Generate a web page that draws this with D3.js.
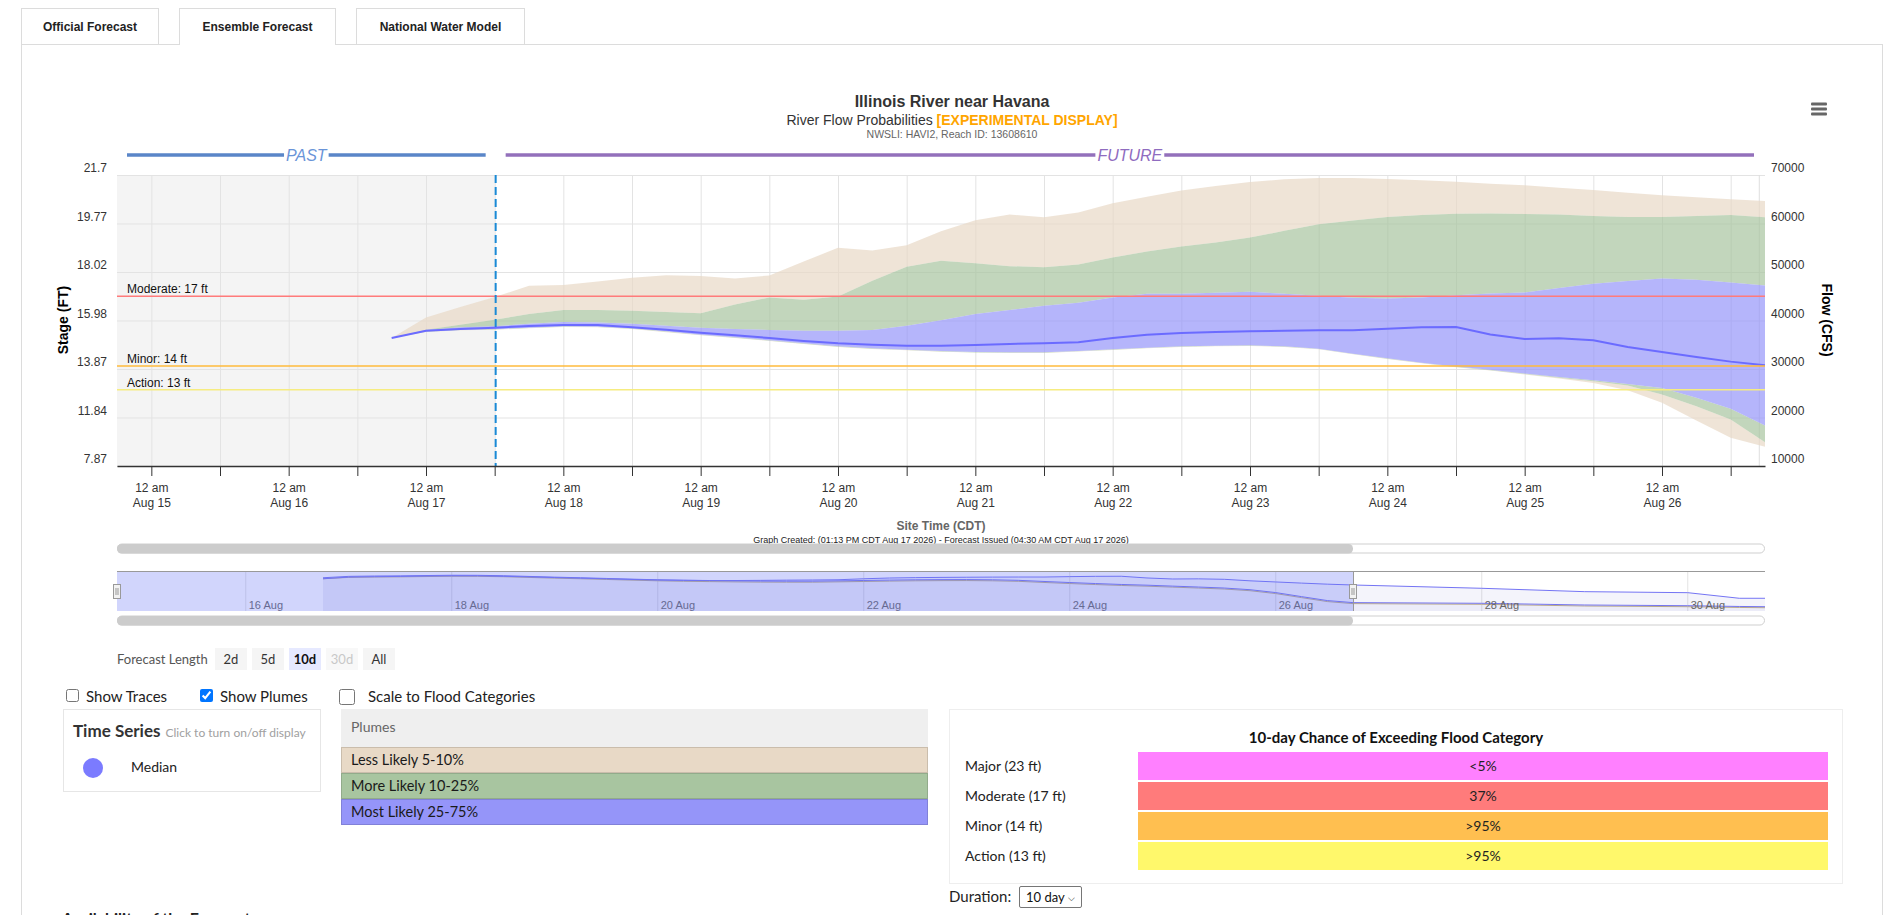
<!DOCTYPE html>
<html>
<head>
<meta charset="utf-8">
<title>Illinois River near Havana</title>
<script src="https://cdn.jsdelivr.net/npm/d3@7"></script>
<style>
  body { margin: 0; width: 1902px; height: 915px; overflow: hidden; background: #fff; position: relative;
         font-family: Lato, "Open Sans", sans-serif; color: #222; }
  div.a { position: absolute; box-sizing: border-box; white-space: nowrap; }
  svg text { font-family: "Liberation Sans", Arial, sans-serif; }
  .tab { top: 8px; height: 36px; border: 1px solid #dcdcdc; border-bottom: none; background: #fff;
         font: bold 12px "Liberation Sans", Arial, sans-serif; color: #222; text-align: center; line-height: 36px; }
  .btn { top: 648px; height: 22px; width: 32px; line-height: 22px; text-align: center; background: #f5f5f5;
         font-size: 13px; color: #333; }
  input.chk { position: absolute; margin: 0; }
</style>
</head>
<body>
<script>
// ---------- data ----------
var times = ["08-16 18","08-17 00","08-17 06","08-17 12","08-17 18","08-18 00","08-18 06","08-18 12","08-18 18",
  "08-19 00","08-19 06","08-19 12","08-19 18","08-20 00","08-20 06","08-20 12","08-20 18",
  "08-21 00","08-21 06","08-21 12","08-21 18","08-22 00","08-22 06","08-22 12","08-22 18",
  "08-23 00","08-23 06","08-23 12","08-23 18","08-24 00","08-24 06","08-24 12","08-24 18",
  "08-25 00","08-25 06","08-25 12","08-25 18","08-26 00","08-26 06","08-26 12","08-26 18"];
// flows in CFS
var median = [36400,37900,38250,38520,38860,39070,39070,38590,38110,37490,36940,36390,35770,35290,35020,34810,34810,
  34950,35160,35290,35500,36390,37080,37420,37630,37760,37900,37970,37970,38310,38590,38650,37100,
  36190,36320,35910,34540,33510,32480,31520,30770];
var tanTop = [36400,40640,42780,44830,47160,47300,48050,48810,49350,49150,48670,49290,52170,54980,54430,55530,58410,
  60670,61840,61290,62250,64170,65540,66780,67740,68560,69110,69380,69380,69180,68900,68630,68220,
  67870,67390,66910,66360,65820,65400,64990,64650];
var greenTop = [36400,38100,39140,40160,41330,42150,42150,42020,41740,41470,43320,44760,44280,44970,48190,51070,52300,
  51820,51210,51000,51550,52990,54220,55250,56080,57100,58480,59850,60600,61360,61770,62000,62040,
  61970,61840,61560,61360,61360,61560,61770,61290];
var blueTop = [36400,38040,38590,38790,39340,39680,39610,39340,38930,38520,38240,38040,37900,37900,38040,38930,40030,
  41330,42150,43040,43660,44760,45510,45510,45720,45920,45510,45100,44690,44550,44760,45200,45550,
  45790,46680,47570,48120,48670,48390,47850,47230];
var blueBot = [36400,37760,38100,38240,38520,38790,38720,38380,37760,37080,36530,35910,35290,34680,34260,33990,33720,
  33510,33440,33440,33720,34060,34400,34680,34810,34880,34680,34200,33170,32210,31310,30500,29850,
  29050,28370,27680,26930,26100,24050,21780,18350];
var greenBot = [36400,37700,38020,38160,38450,38720,38650,38300,37680,37000,36450,35830,35200,34600,34180,33900,33630,
  33420,33350,33350,33640,33980,34320,34600,34730,34800,34600,34120,33090,32130,31230,30400,29760,
  28980,28200,27480,26580,24730,22330,19590,14920];
var tanBot = [36400,37650,37970,38100,38400,38660,38600,38250,37600,36950,36400,35780,35150,34550,34120,33850,33580,
  33380,33300,33300,33600,33940,34280,34560,34700,34760,34560,34080,33050,32080,31180,30350,29700,
  28850,28020,27130,25620,23020,19380,15820,13960];

// navigator continues past the main window
var navTimes = ["08-28 00","08-29 00","08-30 00","08-30 12","08-30 18"];
var navMedian = [27800,24750,23840,18780,18780];
var navLow = [13360,11820,11190,10500,10280];

// stage axis labels sit on the flow grid (rating pairs)
var stageTicks = [7.87, 11.84, 13.87, 15.98, 18.02, 19.77, 21.7];
var flowTicks = [10000, 20000, 30000, 40000, 50000, 60000, 70000];

var floodNames = ["Moderate", "Minor", "Action"];
var floodStages = [17, 14, 13];

var viewStart = "08-14 18", viewEnd = "08-26 18", obsEnd = "08-17 12", navEnd = "08-30 18", dataEnd = "08-26 17";

var plumeLabels = ["Less Likely 5-10%", "More Likely 10-25%", "Most Likely 25-75%"];
var categories = ["Major (23 ft)", "Moderate (17 ft)", "Minor (14 ft)", "Action (13 ft)"];
var chances = ["<5%", "37%", ">95%", ">95%"];
var lengthButtons = ["2d", "5d", "10d", "30d", "All"];
var tabNames = ["Official Forecast", "Ensemble Forecast", "National Water Model"];

// ---------- styles ----------
var floodColors = ["#ff7b7b", "#ffbb3c", "#f6ec80"];
var plumeColors = ["#e8d9c6", "#a8c5a0", "#9595f9"];
var catColors = ["#ff80ff", "#ff7b7b", "#ffbf50", "#fff86b"];

var parseT = d3.utcParse("%Y-%m-%d %H");
function T(s) { return parseT("2026-" + s); }

var plotL = 117, plotR = 1765, plotT = 175, plotB = 466;

function div(l, t, w, h) {
  var d = d3.select("body").append("div").attr("class", "a")
    .style("left", l + "px").style("top", t + "px");
  if (w != null) d.style("width", w + "px");
  if (h != null) d.style("height", h + "px");
  return d;
}

// panel + tabs
div(21, 44, 1862, 880).style("border", "1px solid #dcdcdc").style("border-bottom", "none");

var svg = d3.select("body").append("svg")
  .attr("width", 1902).attr("height", 640)
  .style("position", "absolute").style("left", 0).style("top", 0);

var tabL = [21, 179, 356], tabW = [138, 157, 169];
tabNames.forEach(function(n, i) {
  var t = div(tabL[i], 8, tabW[i], i == 1 ? 37 : 36).attr("class", "a tab").text(n);
  if (i == 1) t.style("height", "37px");
});

// ---------- scales ----------
var x = d3.scaleUtc().domain([T(viewStart), T(viewEnd)]).range([plotL, plotR]);
var y = d3.scaleLinear().domain([10000, 70000]).range([plotB, plotT]);
var rating = d3.scaleLinear().domain(stageTicks).range(flowTicks);

var rows = times.map(function(t, i) {
  return { t: T(t), med: median[i], tt: tanTop[i], gt: greenTop[i], bt: blueTop[i],
           bb: blueBot[i], gb: greenBot[i], tb: tanBot[i] };
});

svg.append("clipPath").attr("id", "clip").append("rect")
  .attr("x", plotL).attr("y", plotT).attr("width", plotR - plotL).attr("height", plotB - plotT);

// past shading
svg.append("rect").attr("x", plotL).attr("y", plotT)
  .attr("width", x(T(obsEnd)) - plotL).attr("height", plotB - plotT).attr("fill", "#f4f4f4");

// grid
var gGrid = svg.append("g");
gGrid.append("g").attr("transform", "translate(0," + plotB + ")")
  .call(d3.axisBottom(x).ticks(d3.utcHour.every(12)).tickSize(-(plotB - plotT)).tickFormat(""))
  .call(function(g) { g.select(".domain").remove(); g.selectAll("line").attr("stroke", "#e3e3e3"); });
gGrid.append("g").attr("transform", "translate(" + plotL + ",0)")
  .call(d3.axisLeft(y).tickValues(flowTicks).tickSize(-(plotR - plotL)).tickFormat(""))
  .call(function(g) { g.select(".domain").remove(); g.selectAll("line").attr("stroke", "#e3e3e3"); });
svg.append("line").attr("x1", x(T(dataEnd))).attr("x2", x(T(dataEnd)))
  .attr("y1", plotT).attr("y2", plotB).attr("stroke", "#dedede");

// plumes
var bands = [
  { lo: "tb", hi: "gb", c: plumeColors[0] }, { lo: "gt", hi: "tt", c: plumeColors[0] },
  { lo: "gb", hi: "bb", c: plumeColors[1] }, { lo: "bt", hi: "gt", c: plumeColors[1] },
  { lo: "bb", hi: "bt", c: plumeColors[2] }];
var gPlot = svg.append("g").attr("clip-path", "url(#clip)");
gPlot.selectAll("path.band").data(bands).join("path").attr("class", "band")
  .attr("d", function(b) {
    return d3.area().x(function(d) { return x(d.t); })
      .y0(function(d) { return y(d[b.lo]); }).y1(function(d) { return y(d[b.hi]); })(rows);
  })
  .attr("fill", function(b) { return b.c; }).attr("fill-opacity", 0.7);

// flood lines
floodStages.forEach(function(s, i) {
  var fy = y(rating(s));
  svg.append("line").attr("x1", plotL).attr("x2", plotR).attr("y1", fy).attr("y2", fy)
    .attr("stroke", floodColors[i]).attr("stroke-width", 1.5);
  svg.append("text").attr("x", plotL + 10).attr("y", fy - 3).attr("font-size", 12).attr("fill", "#111")
    .text(floodNames[i] + ": " + s + " ft");
});

// median
gPlot.append("path").datum(rows)
  .attr("d", d3.line().x(function(d) { return x(d.t); }).y(function(d) { return y(d.med); }))
  .attr("fill", "none").attr("stroke", "#6b6bff").attr("stroke-width", 2);

// now line
svg.append("line").attr("x1", x(T(obsEnd)) + 1).attr("x2", x(T(obsEnd)) + 1)
  .attr("y1", plotT).attr("y2", plotB).attr("stroke", "#1a8ad6").attr("stroke-width", 2)
  .attr("stroke-dasharray", "8,4");

// x axis
var fmtDay = d3.utcFormat("%b %d");
var gx = svg.append("g").attr("transform", "translate(0," + plotB + ")")
  .call(d3.axisBottom(x).ticks(d3.utcHour.every(12)).tickSize(10).tickSizeOuter(0).tickFormat(""));
gx.select(".domain").attr("stroke", "#333").attr("stroke-width", 1.5);
gx.selectAll(".tick line").attr("stroke", "#333");
gx.selectAll(".tick").each(function(d) {
  if (d.getUTCHours() !== 0) return;
  var t = d3.select(this).append("text").attr("fill", "#333").attr("text-anchor", "middle").attr("font-size", 12);
  t.append("tspan").attr("x", 0).attr("y", 26).text("12 am");
  t.append("tspan").attr("x", 0).attr("y", 41).text(fmtDay(d));
});

// y axes
var gyl = svg.append("g").attr("transform", "translate(" + plotL + ",0)")
  .call(d3.axisLeft(y).tickValues(flowTicks).tickSize(0).tickPadding(10)
    .tickFormat(function(d, i) { return stageTicks[i]; }));
gyl.select(".domain").remove();
gyl.selectAll("text").attr("y", -7).attr("fill", "#333").attr("font-size", 12);

var gyr = svg.append("g").attr("transform", "translate(" + plotR + ",0)")
  .call(d3.axisRight(y).tickValues(flowTicks).tickSize(0).tickPadding(6).tickFormat(d3.format("d")));
gyr.select(".domain").remove();
gyr.selectAll("text").attr("y", -7).attr("fill", "#333").attr("font-size", 12);

svg.append("text").attr("transform", "translate(68,320) rotate(-90)").attr("text-anchor", "middle")
  .attr("font-size", 14).attr("font-weight", "bold").attr("fill", "#000").text("Stage (FT)");
svg.append("text").attr("transform", "translate(1822,320) rotate(90)").attr("text-anchor", "middle")
  .attr("font-size", 14).attr("font-weight", "bold").attr("fill", "#000").text("Flow (CFS)");

// titles
svg.append("text").attr("x", 952).attr("y", 107).attr("text-anchor", "middle").attr("font-size", 16)
  .attr("font-weight", "bold").attr("fill", "#333").text("Illinois River near Havana");
var sub = svg.append("text").attr("x", 952).attr("y", 124.5).attr("text-anchor", "middle").attr("font-size", 14).attr("fill", "#333");
sub.append("tspan").text("River Flow Probabilities ");
sub.append("tspan").attr("fill", "#ffa500").attr("font-weight", "bold").text("[EXPERIMENTAL DISPLAY]");
svg.append("text").attr("x", 952).attr("y", 138).attr("text-anchor", "middle").attr("font-size", 10.5)
  .attr("fill", "#666").text("NWSLI: HAVI2, Reach ID: 13608610");

// menu icon
[104, 109, 114].forEach(function(yy) {
  svg.append("rect").attr("x", 1811).attr("y", yy - 1.5).attr("width", 16).attr("height", 3).attr("rx", 1).attr("fill", "#666");
});

// past / future bars
function era(x0, x1, label, lc, tc) {
  var cx = (x0 + x1) / 2;
  var t = svg.append("text").attr("x", cx).attr("y", 160.5).attr("text-anchor", "middle")
    .attr("font-size", 16).attr("font-style", "italic").attr("fill", tc).text(label);
  var w = t.node().getComputedTextLength();
  [[x0, cx - w / 2 - 2], [cx + w / 2 + 2, x1]].forEach(function(s) {
    svg.append("line").attr("x1", s[0]).attr("x2", s[1]).attr("y1", 155).attr("y2", 155)
      .attr("stroke", lc).attr("stroke-width", 3.5);
  });
}
era(plotL + 10, x(T(obsEnd)) - 9, "PAST", "#5a86c8", "#6a94d8");
era(x(T(obsEnd)) + 11, plotR - 11, "FUTURE", "#9370bb", "#8f6cc0");

// axis title and note
svg.append("text").attr("x", 941).attr("y", 530).attr("text-anchor", "middle").attr("font-size", 12)
  .attr("font-weight", "bold").attr("fill", "#666").text("Site Time (CDT)");
svg.append("text").attr("x", 941).attr("y", 543).attr("text-anchor", "middle").attr("font-size", 9)
  .attr("fill", "#222").text("Graph Created: (01:13 PM CDT Aug 17 2026) - Forecast Issued (04:30 AM CDT Aug 17 2026)");

// ---------- navigator ----------
var xn = d3.scaleUtc().domain([T(viewStart), T(navEnd)]).range([plotL, plotR]);
var yn = d3.scaleLinear().domain([7300, 43400]).range([611, 571]);
var navRows = rows.map(function(d) { return { t: d.t, med: d.med, lo: d.tb }; })
  .concat(navTimes.map(function(t, i) { return { t: T(t), med: navMedian[i], lo: navLow[i] }; }));

function scrollbar(yy) {
  svg.append("rect").attr("x", plotL + 0.5).attr("y", yy).attr("width", plotR - plotL - 1).attr("height", 9)
    .attr("rx", 4.5).attr("fill", "#fff").attr("stroke", "#cfcfcf");
  svg.append("rect").attr("x", plotL).attr("y", yy).attr("width", xn(T(viewEnd)) - plotL).attr("height", 9.5)
    .attr("rx", 4.5).attr("fill", "#cccccc");
}
scrollbar(544);
scrollbar(616);

svg.append("rect").attr("x", plotL).attr("y", 571).attr("width", plotR - plotL).attr("height", 40).attr("fill", "#fff");
var navDays = d3.utcDay.range(T("08-16 00"), T(navEnd), 2);
var fmtNav = d3.utcFormat("%d %b");
navDays.forEach(function(d) {
  svg.append("line").attr("x1", xn(d)).attr("x2", xn(d)).attr("y1", 571).attr("y2", 611).attr("stroke", "#e3e3e3");
});
svg.append("path").datum(navRows)
  .attr("d", d3.area().x(function(d) { return xn(d.t); }).y0(611).y1(function(d) { return yn(d.med); }))
  .attr("fill", "#6666cc").attr("fill-opacity", 0.07);
svg.append("path").datum(navRows)
  .attr("d", d3.area().x(function(d) { return xn(d.t); }).y0(611).y1(function(d) { return yn(d.lo); }))
  .attr("fill", "#6666cc").attr("fill-opacity", 0.05);
svg.append("path").datum(navRows)
  .attr("d", d3.line().x(function(d) { return xn(d.t); }).y(function(d) { return yn(d.lo); }))
  .attr("fill", "none").attr("stroke", "#b9a98a").attr("stroke-width", 1);
svg.append("path").datum(navRows)
  .attr("d", d3.line().x(function(d) { return xn(d.t); }).y(function(d) { return yn(d.lo) - 1; }))
  .attr("fill", "none").attr("stroke", "#7474f0").attr("stroke-width", 1);
svg.append("path").datum(navRows)
  .attr("d", d3.line().x(function(d) { return xn(d.t); }).y(function(d) { return yn(d.med); }))
  .attr("fill", "none").attr("stroke", "#7474f4").attr("stroke-width", 1);
navDays.forEach(function(d) {
  svg.append("text").attr("x", xn(d) + 3).attr("y", 609).attr("font-size", 11).attr("fill", "#666").text(fmtNav(d));
});
var hx = xn(T(viewEnd));
svg.append("rect").attr("x", plotL).attr("y", 571).attr("width", hx - plotL).attr("height", 40)
  .attr("fill", "#6673f5").attr("fill-opacity", 0.3);
svg.append("path").attr("d", "M" + plotL + ",571.5H" + plotR + "M" + (hx + 0.5) + ",571V611")
  .attr("stroke", "#999").attr("fill", "none");
[plotL, hx].forEach(function(h) {
  svg.append("rect").attr("x", h - 3.5).attr("y", 584.5).attr("width", 7).attr("height", 14)
    .attr("fill", "#f2f2f2").attr("stroke", "#999");
  svg.append("path").attr("d", "M" + (h - 1) + ",588V595M" + (h + 1) + ",588V595").attr("stroke", "#999");
});

// ---------- controls below the chart ----------
div(117, 648, null, 22).style("line-height", "22px").style("font-size", "13px").style("color", "#555").text("Forecast Length");
var btnL = [215, 252, 289, 326, 363];
lengthButtons.forEach(function(b, i) {
  var d = div(btnL[i], 648).attr("class", "a btn").text(b);
  if (b == "10d") d.style("background", "#e6e9ff").style("font-weight", "bold").style("color", "#111");
  if (b == "30d") d.style("color", "#c8c8c8").style("background", "#f8f8f8");
});

function checkbox(l, t, s, checked, label, tl) {
  var c = d3.select("body").append("input").attr("type", "checkbox").attr("class", "chk")
    .style("left", l + "px").style("top", t + "px").style("width", s + "px").style("height", s + "px");
  c.property("checked", checked);
  div(tl, 684, null, 24).style("line-height", "24px").style("font-size", "15px").style("color", "#222").text(label);
}
checkbox(66, 689, 13, false, "Show Traces", 86);
checkbox(200, 689, 13, true, "Show Plumes", 220);
checkbox(339, 689, 16, false, "Scale to Flood Categories", 368);

// time series legend (children placed inside the box)
var tsBox = div(63, 709, 258, 83).style("border", "1px solid #e6e6e6");
tsBox.append("div").attr("class", "a").style("left", "9px").style("top", "9px").style("line-height", "24px")
  .html('<span style="font-size:17px;font-weight:bold;color:#333">Time Series</span>' +
        '<span style="font-size:12px;color:#a0a0a0;margin-left:5px">Click to turn on/off display</span>');
tsBox.append("div").attr("class", "a").style("left", "19px").style("top", "48px")
  .style("width", "20px").style("height", "20px").style("border-radius", "50%").style("background", "#7b7bff");
tsBox.append("div").attr("class", "a").style("left", "67px").style("top", "44px").style("line-height", "26px")
  .style("font-size", "14px").style("color", "#222").text("Median");

// plume legend
div(341, 709, 587, 38).style("background", "#efefef").style("line-height", "36px").style("padding-left", "10px")
  .style("font-size", "14px").style("color", "#666").text("Plumes");
plumeLabels.forEach(function(p, i) {
  div(341, 747 + i * 26, 587, 26).style("background", plumeColors[i]).style("border", "1px solid rgba(0,0,0,0.13)")
    .style("line-height", "24px").style("padding-left", "9px").style("font-size", "14.5px").style("color", "#1a1a1a").text(p);
});

// chance of exceeding table
div(949, 709, 894, 175).style("border", "1px solid #eeeeee");
div(949, 726, 894, 22).style("text-align", "center").style("line-height", "22px").style("font-size", "15px")
  .style("font-weight", "bold").style("color", "#111").text("10-day Chance of Exceeding Flood Category");
categories.forEach(function(c, i) {
  var top = 752 + i * 30;
  div(965, top, null, 28).style("line-height", "28px").style("font-size", "14px").style("color", "#222").text(c);
  div(1138, top, 690, 28).style("background", catColors[i]).style("text-align", "center")
    .style("line-height", "28px").style("font-size", "14px").style("color", "#222").text(chances[i]);
});

div(949, 885, null, 22).style("line-height", "22px").style("font-size", "15px").style("color", "#222").text("Duration:");
div(1019, 886, 63, 22).style("border", "1px solid #767676").style("border-radius", "2px").style("font-size", "13px")
  .style("line-height", "20px").style("padding-left", "6px").style("color", "#111")
  .html('10 day <span style="font-size:9px;position:relative;top:-1px">&#x2335;</span>');

div(62, 908, null, 20).style("font-size", "16px").style("font-weight", "bold").style("line-height", "20px")
  .style("color", "#222").text("Availability of the Forecast");
</script>
</body>
</html>
